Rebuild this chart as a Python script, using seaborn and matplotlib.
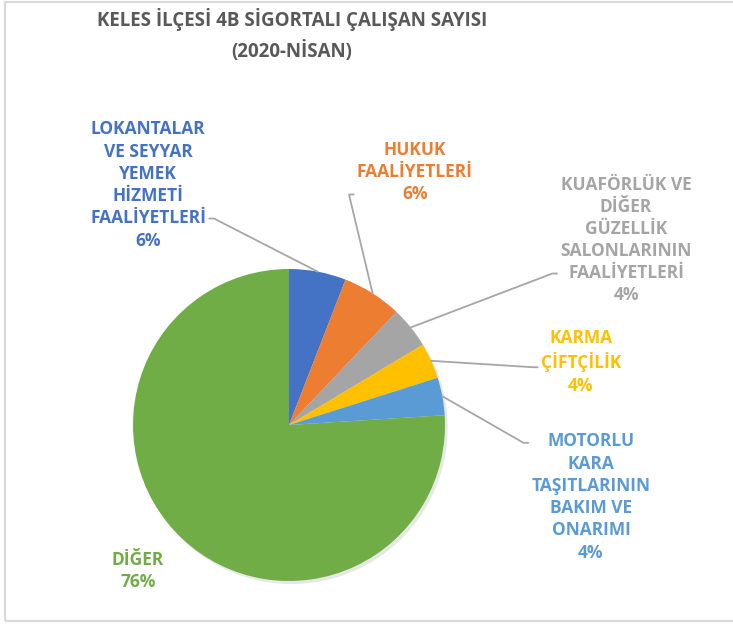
import matplotlib
matplotlib.use('Agg')
import matplotlib.pyplot as plt
from matplotlib.patches import Rectangle
import numpy as np
import seaborn as sns

title = 'KELES İLÇESİ 4B SİGORTALI ÇALIŞAN SAYISI\n(2020-NİSAN)'
categories = ['LOKANTALAR\nVE SEYYAR\nYEMEK\nHİZMETİ\nFAALİYETLERİ',
              'HUKUK\nFAALİYETLERİ',
              'KUAFÖRLÜK VE\nDİĞER\nGÜZELLİK\nSALONLARININ\nFAALİYETLERİ',
              'KARMA\nÇİFTÇİLİK',
              'MOTORLU\nKARA\nTAŞITLARININ\nBAKIM VE\nONARIMI',
              'DİĞER']
shares = [5.9, 6.2, 4.3, 3.7, 3.9, 76.0]
colors = ['#4472C4', '#ED7D31', '#A5A5A5', '#FFC000', '#5B9BD5', '#70AD47']

sns.set_theme(style='white')
plt.rcParams['font.family'] = ['Open Sans', 'DejaVu Sans']

W, H = 733, 626
cx, cy, rad = 289, 425, 156  # pie centre / radius in pixels


def to_data(px, py):
    return (px - cx) / rad, (cy - py) / rad


fig = plt.figure(figsize=(W / 100, H / 100), dpi=100)
ax = fig.add_axes([0, 0, 1, 1])

wedges, _ = ax.pie(shares, colors=colors, startangle=90, counterclock=False,
                   radius=1.0, center=(0, 0), frame=True,
                   wedgeprops=dict(linewidth=0),
                   shadow=dict(ox=0.012, oy=-0.014, shade=0.6, alpha=0.12))
ax.set_xlim(-cx / rad, (W - cx) / rad)
ax.set_ylim(-(H - cy) / rad, cy / rad)
ax.set_aspect('equal')
ax.axis('off')

# label centres (pixels), elbow direction and where the leader leaves the text
label_pos = [(148, 185), (415, 172), (626, 240), (581, 362), (591, 497), (138, 571)]
leader = [(0, (1.0, 0.24)), (180, (0.0, 0.14)), (180, (0.0, 0.24)),
          (180, (0.0, 0.42)), (180, (0.0, 0.92)), None]

for w, cat, val, col, pos, ld in zip(wedges, categories, shares, colors,
                                     label_pos, leader):
    txt = '{}\n{:.0f}%'.format(cat, val)
    mid = np.deg2rad((w.theta1 + w.theta2) / 2)
    tip = (np.cos(mid), np.sin(mid))
    kw = dict(ha='center', va='center', multialignment='center',
              fontsize=12.5, fontweight='bold', color=col, linespacing=1.3)
    if ld is None:
        ax.text(*to_data(*pos), txt, **kw)
    else:
        ang, rel = ld
        ax.annotate(txt, xy=tip, xytext=to_data(*pos), **kw,
                    arrowprops=dict(arrowstyle='-', color='#A6A6A6', lw=1.3,
                                    relpos=rel, shrinkA=0, shrinkB=0,
                                    connectionstyle='arc,angleA={},armA=8,'
                                                    'angleB=0,armB=0,rad=0'.format(ang)))

fig.text(292 / W, 1 - 35 / H, title, ha='center', va='center',
         fontsize=13.5, fontweight='bold', color='#595959', linespacing=1.6)

fig.patches.append(Rectangle((5 / W, 1 - 621 / H), 1.0, (621 - 2) / H,
                             transform=fig.transFigure, fill=False,
                             edgecolor='#D9D9D9', lw=1.5))

fig.savefig('out.png', dpi=100, facecolor='white')
